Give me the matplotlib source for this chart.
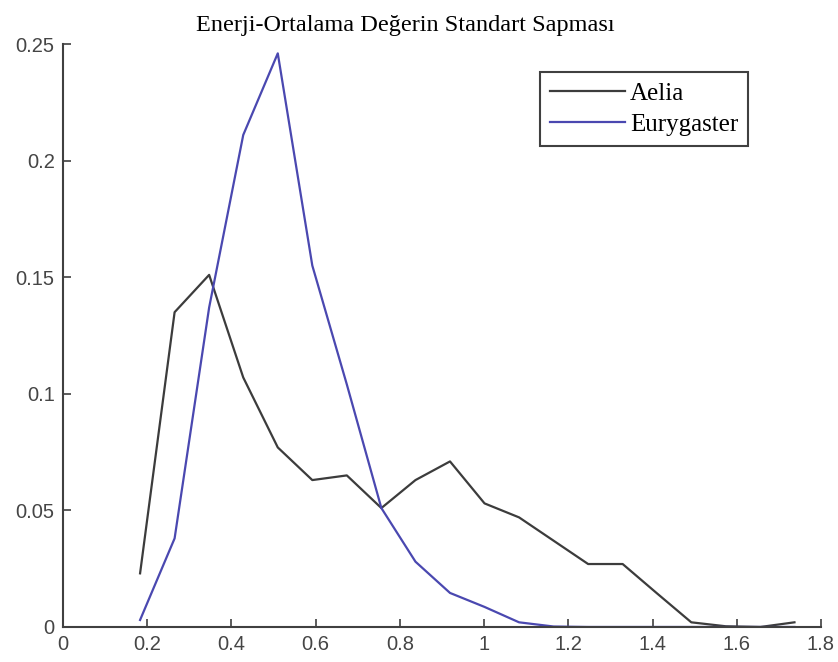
import numpy as np
import matplotlib.pyplot as plt

# x noktalari (ortak)
x = [0.183, 0.265, 0.347, 0.428, 0.510, 0.592, 0.674, 0.756, 0.837, 0.919,
     1.001, 1.083, 1.165, 1.247, 1.329, 1.410, 1.492, 1.574, 1.656, 1.737]
aelia = [0.023, 0.135, 0.151, 0.107, 0.077, 0.063, 0.065, 0.051, 0.063, 0.071,
         0.053, 0.047, 0.037, 0.027, 0.027, 0.0145, 0.002, 0.0003, 0.0, 0.002]
eurygaster = [0.003, 0.038, 0.137, 0.211, 0.246, 0.155, 0.104, 0.051, 0.028, 0.0146,
              0.0086, 0.002, 0.0002, 0.0, 0.0, 0.0, 0.0, 0.0, 0.0, 0.0]

xticks = [0, 0.2, 0.4, 0.6, 0.8, 1, 1.2, 1.4, 1.6, 1.8]
xticklabels = ['0', '0.2', '0.4', '0.6', '0.8', '1', '1.2', '1.4', '1.6', '1.8']
yticks = [0, 0.05, 0.1, 0.15, 0.2, 0.25]
yticklabels = ['0', '0.05', '0.1', '0.15', '0.2', '0.25']

fig = plt.figure(figsize=(8.38, 6.62), dpi=100)
ax = fig.add_axes([0.0752, 0.0529, 0.9045, 0.8806])

ax.plot(x, aelia, color='#3c3c3c', lw=1.6, label='Aelia')
ax.plot(x, eurygaster, color='#4a48b0', lw=1.6, label='Eurygaster')

ax.set_xlim(0, 1.8)
ax.set_ylim(0, 0.25)
ax.set_xticks(xticks)
ax.set_xticklabels(xticklabels)
ax.set_yticks(yticks)
ax.set_yticklabels(yticklabels)
ax.tick_params(direction='in', length=6, width=1.2, color='#404040',
               labelsize=14.5, labelcolor='#454545', pad=6)
for lab in ax.get_xticklabels() + ax.get_yticklabels():
    lab.set_family('Liberation Sans')

for s in ['top', 'right']:
    ax.spines[s].set_visible(False)
for s in ['left', 'bottom']:
    ax.spines[s].set_color('#404040')
    ax.spines[s].set_linewidth(1.5)

leg = ax.legend(loc='upper left', bbox_to_anchor=(0.629, 0.952),
                borderaxespad=0,
                prop={'family': 'Liberation Serif', 'size': 18},
                handlelength=3.0, handletextpad=0.2, borderpad=0.4,
                labelspacing=0.35, fancybox=False, framealpha=1)
leg.get_frame().set_edgecolor('#404040')
leg.get_frame().set_linewidth(1.5)

fig.text(0.484, 0.962, 'Enerji-Ortalama Değerin Standart Sapması',
         ha='center', va='center', family='Liberation Serif', fontsize=17.5)

fig.savefig('out.png', dpi=100)
